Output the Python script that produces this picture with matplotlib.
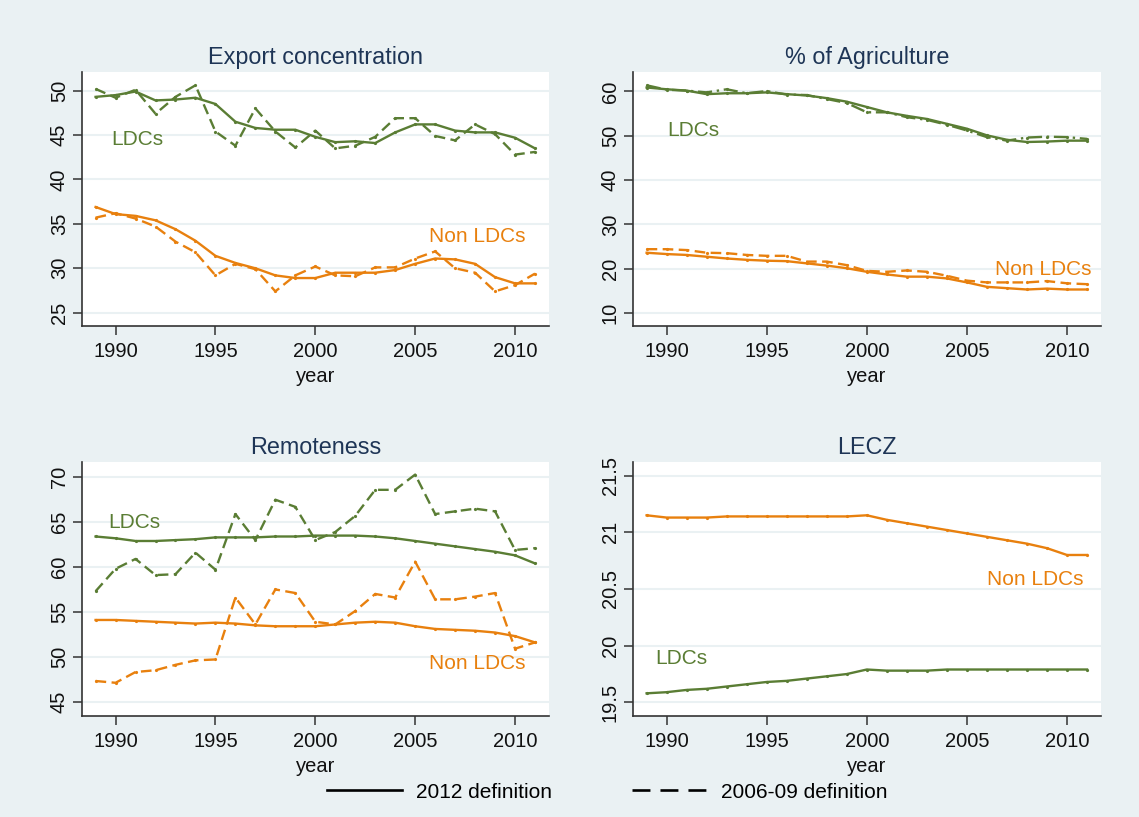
import matplotlib
matplotlib.use("Agg")
import matplotlib.pyplot as plt
from matplotlib.lines import Line2D

plt.rcParams['font.family'] = ['Liberation Sans', 'DejaVu Sans']

years = list(range(1989, 2012))

# Export concentration
exp_ldc_2012 = [49.3, 49.5, 49.9, 48.9, 49.0, 49.2, 48.5, 46.5, 45.8, 45.6, 45.6, 44.8,
                44.2, 44.3, 44.1, 45.3, 46.2, 46.2, 45.5, 45.3, 45.3, 44.7, 43.5]
exp_ldc_0609 = [50.2, 49.2, 50.1, 47.4, 49.3, 50.6, 45.4, 43.8, 48.0, 45.4, 43.6, 45.5,
                43.5, 43.8, 44.8, 46.9, 46.9, 44.9, 44.4, 46.2, 45.1, 42.8, 43.1]
exp_non_2012 = [36.9, 36.1, 35.9, 35.4, 34.4, 33.1, 31.4, 30.6, 30.0, 29.2, 28.9, 28.9,
                29.5, 29.5, 29.5, 29.8, 30.5, 31.1, 31.0, 30.5, 29.0, 28.3, 28.3]
exp_non_0609 = [35.7, 36.2, 35.6, 34.7, 33.0, 31.8, 29.2, 30.5, 29.9, 27.4, 29.2, 30.2,
                29.2, 29.1, 30.1, 30.1, 31.1, 31.9, 30.0, 29.5, 27.4, 28.1, 29.4]

# % of Agriculture
agr_ldc_2012 = [60.9, 60.5, 60.2, 59.4, 59.6, 59.6, 59.8, 59.4, 59.1, 58.5, 57.7, 56.5,
                55.3, 54.5, 53.8, 52.7, 51.6, 50.1, 49.1, 48.6, 48.7, 48.9, 48.9]
agr_ldc_0609 = [61.4, 60.4, 60.2, 59.8, 60.5, 59.6, 60.1, 59.3, 59.2, 58.3, 57.4, 55.3,
                55.3, 54.2, 53.6, 52.5, 51.2, 49.7, 48.9, 49.6, 49.8, 49.7, 49.3]
agr_non_2012 = [23.6, 23.3, 23.1, 22.7, 22.3, 22.0, 21.8, 21.7, 21.2, 20.7, 20.1, 19.3,
                18.7, 18.2, 18.2, 17.8, 16.9, 15.9, 15.6, 15.3, 15.5, 15.3, 15.3]
agr_non_0609 = [24.4, 24.4, 24.2, 23.6, 23.5, 23.1, 22.9, 22.9, 21.6, 21.6, 20.8, 19.5,
                19.3, 19.6, 19.3, 18.4, 17.3, 16.9, 16.9, 16.9, 17.2, 16.7, 16.5]

# Remoteness
rem_ldc_2012 = [63.4, 63.2, 62.9, 62.9, 63.0, 63.1, 63.3, 63.3, 63.3, 63.4, 63.4, 63.5,
                63.5, 63.5, 63.4, 63.2, 62.9, 62.6, 62.3, 62.0, 61.7, 61.3, 60.4]
rem_ldc_0609 = [57.3, 59.8, 60.9, 59.1, 59.2, 61.6, 59.7, 65.9, 63.0, 67.5, 66.7, 63.0,
                63.9, 65.7, 68.6, 68.6, 70.3, 65.9, 66.2, 66.5, 66.2, 61.9, 62.1]
rem_non_2012 = [54.1, 54.1, 54.0, 53.9, 53.8, 53.7, 53.8, 53.7, 53.5, 53.4, 53.4, 53.4,
                53.6, 53.8, 53.9, 53.8, 53.4, 53.1, 53.0, 52.9, 52.7, 52.3, 51.6]
rem_non_0609 = [47.3, 47.1, 48.3, 48.5, 49.1, 49.6, 49.7, 56.6, 53.6, 57.5, 57.1, 53.9,
                53.6, 55.1, 57.0, 56.6, 60.6, 56.4, 56.4, 56.7, 57.1, 50.9, 51.6]

# LECZ
lecz_ldc = [19.58, 19.59, 19.61, 19.62, 19.64, 19.66, 19.68, 19.69, 19.71, 19.73, 19.75, 19.79,
            19.78, 19.78, 19.78, 19.79, 19.79, 19.79, 19.79, 19.79, 19.79, 19.79, 19.79]
lecz_non = [21.15, 21.13, 21.13, 21.13, 21.14, 21.14, 21.14, 21.14, 21.14, 21.14, 21.14, 21.15,
            21.11, 21.08, 21.05, 21.02, 20.99, 20.96, 20.93, 20.90, 20.86, 20.80, 20.80]

GREEN = '#5a7d34'
ORANGE = '#e8800e'
BG = '#eaf1f3'
TITLE_C = '#1e3556'
TICK_FS = 14.5

fig = plt.figure(figsize=(11.39, 8.17), dpi=100, facecolor=BG)

W, H = 1139, 817
boxes = {
    'tl': (82, 72, 549, 326),
    'tr': (633, 72, 1101, 326),
    'bl': (82, 462, 549, 716),
    'br': (633, 462, 1101, 716),
}


def make_ax(key):
    x0, y0, x1, y1 = boxes[key]
    return fig.add_axes([x0 / W, 1 - y1 / H, (x1 - x0) / W, (y1 - y0) / H])


def style(ax, title, yticks, ylim, yfmt=None):
    ax.set_facecolor('white')
    ax.set_xlim(1988.32, 2011.7)
    ax.set_ylim(*ylim)
    ax.set_xticks([1990, 1995, 2000, 2005, 2010])
    ax.set_yticks(yticks)
    if yfmt is not None:
        ax.set_yticklabels(yfmt)
    for s in ['top', 'right']:
        ax.spines[s].set_visible(False)
    for s in ['left', 'bottom']:
        ax.spines[s].set_color('#333333')
        ax.spines[s].set_linewidth(1.2)
    ax.tick_params(axis='both', length=6.5, width=1.1, color='#333333',
                   labelsize=TICK_FS, labelcolor='#111111')
    ax.tick_params(axis='x', pad=5)
    ax.tick_params(axis='y', pad=3)
    for lab in ax.get_yticklabels():
        lab.set_rotation(90)
        lab.set_va('center')
    ax.grid(axis='y', color=BG, linewidth=1.5)
    ax.set_axisbelow(True)
    ax.set_title(title, fontsize=16.8, color=TITLE_C, pad=6)
    ax.set_xlabel('year', fontsize=TICK_FS, color='#111111', labelpad=4)


def line(ax, y, color, dashed=False, dashdot=False):
    ls = '-'
    if dashed:
        ls = (0, (4.5, 2.3))
    if dashdot:
        ls = (0, (6, 2, 1, 2))
    ax.plot(years, y, color=color, lw=1.7, linestyle=ls,
            marker='o', markersize=2.3, markeredgewidth=0)


# Export concentration
ax = make_ax('tl')
line(ax, exp_ldc_0609, GREEN, dashed=True)
line(ax, exp_ldc_2012, GREEN)
line(ax, exp_non_0609, ORANGE, dashed=True)
line(ax, exp_non_2012, ORANGE)
style(ax, 'Export concentration', [25, 30, 35, 40, 45, 50], (23.5, 52.1))
ax.text(1989.8, 44.45, 'LDCs', color=GREEN, fontsize=15, va='center')
ax.text(2005.7, 33.55, 'Non LDCs', color=ORANGE, fontsize=15, va='center')

# % of Agriculture
ax = make_ax('tr')
line(ax, agr_ldc_0609, GREEN, dashdot=True)
line(ax, agr_ldc_2012, GREEN)
line(ax, agr_non_0609, ORANGE, dashed=True)
line(ax, agr_non_2012, ORANGE)
style(ax, '% of Agriculture', [10, 20, 30, 40, 50, 60], (7.06, 64.4))
ax.text(1990.05, 51.3, 'LDCs', color=GREEN, fontsize=15, va='center')
ax.text(2006.4, 19.9, 'Non LDCs', color=ORANGE, fontsize=15, va='center')

# Remoteness
ax = make_ax('bl')
line(ax, rem_ldc_0609, GREEN, dashed=True)
line(ax, rem_ldc_2012, GREEN)
line(ax, rem_non_0609, ORANGE, dashed=True)
line(ax, rem_non_2012, ORANGE)
style(ax, 'Remoteness', [45, 50, 55, 60, 65, 70], (43.4, 71.7))
ax.text(1989.65, 65.0, 'LDCs', color=GREEN, fontsize=15, va='center')
ax.text(2005.7, 49.3, 'Non LDCs', color=ORANGE, fontsize=15, va='center')

# LECZ
ax = make_ax('br')
line(ax, lecz_ldc, GREEN)
line(ax, lecz_non, ORANGE)
style(ax, 'LECZ', [19.5, 20, 20.5, 21, 21.5], (19.38, 21.62),
      ['19.5', '20', '20.5', '21', '21.5'])
for lab in ax.get_yticklabels():
    lab.set_rotation(90)
    lab.set_va('center')
ax.text(1989.45, 19.89, 'LDCs', color=GREEN, fontsize=15, va='center')
ax.text(2006.0, 20.58, 'Non LDCs', color=ORANGE, fontsize=15, va='center')

handles = [Line2D([], [], color='black', lw=1.9),
           Line2D([], [], color='black', lw=1.9, linestyle=(0, (6.8, 3.8)))]
fig.legend(handles, ['2012 definition', '2006-09 definition'], loc='center',
           bbox_to_anchor=(0.533, 1 - 792 / H), ncol=2, frameon=False,
           fontsize=15, handlelength=3.6, handletextpad=0.67, columnspacing=3.86)

fig.savefig('out.png', dpi=100, facecolor=BG)
